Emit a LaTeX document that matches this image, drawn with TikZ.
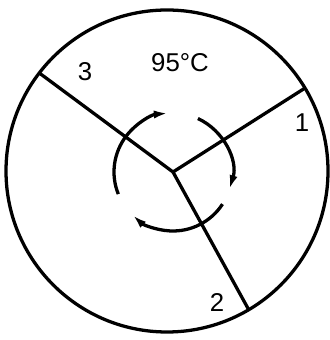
\documentclass[tikz,border=0pt]{standalone}
\usepackage{fontspec}
\setmainfont{Liberation Sans}
\usetikzlibrary{
    calc,
    arrows.meta
}
\tikzset{
  every path/.style={
    black,
    line width=2.8pt
  },
  every node/.style={
    inner sep=1pt,
    font=\fontsize{22}{26}\selectfont
  },
  turn/.style={
    line width=2.8pt,
    -{Latex[length=12pt,width=7pt]}
  }
}

\begin{document}
\begin{tikzpicture}[x=0.03cm,y=0.03cm]
    \useasboundingbox (0,0) rectangle (329,340);

    % 外周
    \coordinate (c) at (167,169);
    \draw (c) circle (161);

    % 中心と仕切り
    \coordinate (hub) at (173,168);
    \coordinate (e1) at ($(c)+(31:161)$);
    \coordinate (e2) at ($(c)+(-59.5:161)$);
    \coordinate (e3) at ($(c)+(142.5:161)$);
    \draw (hub) -- (e1);
    \draw (hub) -- (e2);
    \draw (hub) -- (e3);

    % 回転
    \draw[turn] ($(hub)+(202:59)$) arc[start angle=202,end angle=95,radius=59];
    \draw[turn] ($(hub)+(65:59)$) arc[start angle=65,end angle=-17,radius=59];
    \draw[turn] ($(hub)+(-33:59)$) arc[start angle=-33,end angle=-133,radius=59];

    % 番号
    \node (t) at (180,277) {95°C};
    \node (n3) at (85,268) {3};
    \node (n1) at (302,217) {1};
    \node (n2) at (217,37) {2};
\end{tikzpicture}
\end{document}
